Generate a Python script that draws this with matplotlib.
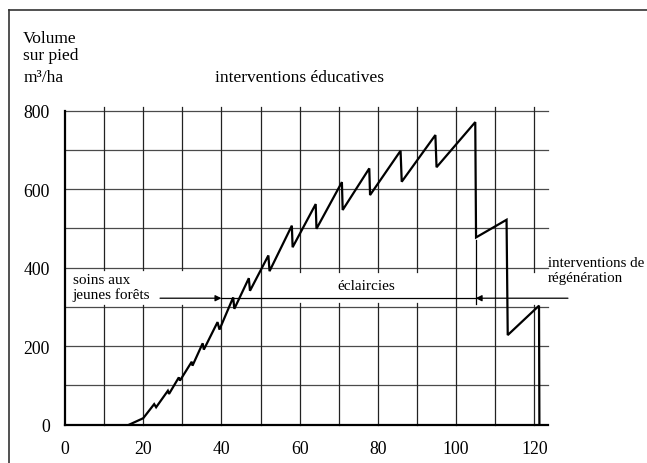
import matplotlib.pyplot as plt
from matplotlib.lines import Line2D

plt.rcParams['font.family'] = ['Liberation Serif', 'DejaVu Serif']

# standing volume (m3/ha) vs stand age
age = [16.5, 20.0, 22.8, 23.3, 26.3, 26.6, 29.1, 29.4, 32.4, 32.6, 35.2, 35.5,
       39.0, 39.5, 43.0, 43.3, 47.0, 47.3, 52.0, 52.3, 58.0, 58.2, 64.1, 64.3,
       70.8, 71.0, 77.8, 78.0, 85.8, 86.1, 94.7, 95.0, 104.9, 105.1,
       112.9, 113.2, 121.2, 121.3]
volume = [0, 16, 52, 44, 86, 78, 120, 112, 160, 150, 207, 191,
          261, 242, 324, 295, 373, 341, 431, 391, 507, 452, 562, 499,
          618, 547, 653, 585, 698, 619, 738, 656, 771, 477,
          522, 228, 303, 0]

x_ticks = [0, 20, 40, 60, 80, 100, 120]
y_ticks = [0, 200, 400, 600, 800]

fig = plt.figure(figsize=(6.47, 4.64), dpi=100)
W, H = 647, 464
# 3.911 px per year, 0.3922 px per m3
ax = fig.add_axes([65 / W, 38.5 / H, 140 * 3.911 / W, 900 * 0.3922 / H])
ax.set_xlim(0, 140)
ax.set_ylim(0, 900)
for s in ax.spines.values():
    s.set_visible(False)

# grid
x_end = 123.5
for yv in range(100, 801, 100):
    ax.plot([0, x_end], [yv, yv], color='#4a4a4a', lw=0.9, clip_on=False, zorder=1)

gaps = {10: (305, 395), 20: (305, 395), 30: (305, 395),
        60: (310, 390), 70: (310, 390), 80: (310, 390), 90: (310, 390),
        120: (305, 388)}
for xv in range(10, 121, 10):
    if xv in gaps:
        g0, g1 = gaps[xv]
        ax.plot([xv, xv], [0, g0], color='#222222', lw=0.9, clip_on=False, zorder=1)
        ax.plot([xv, xv], [g1, 810], color='#222222', lw=0.9, clip_on=False, zorder=1)
    else:
        ax.plot([xv, xv], [0, 810], color='#222222', lw=0.9, clip_on=False, zorder=1)

# axes lines
ax.plot([0, 0], [0, 800], color='k', lw=1.6, clip_on=False, zorder=2)
ax.plot([0, x_end], [0, 0], color='k', lw=1.6, clip_on=False, zorder=2)

# volume curve
ax.plot(age, volume, color='k', lw=1.6, clip_on=False, zorder=3,
        solid_joinstyle='miter')

# annotation lines and arrows
y_arr = 322
ax.annotate('', xy=(40, y_arr), xytext=(24.3, y_arr),
            arrowprops=dict(arrowstyle='-|>', lw=0.9, color='k',
                            mutation_scale=9, shrinkA=0, shrinkB=0))
ax.plot([40, 105], [y_arr, y_arr], color='k', lw=0.9, clip_on=False)
ax.annotate('', xy=(105, y_arr), xytext=(128.6, y_arr),
            arrowprops=dict(arrowstyle='-|>', lw=0.9, color='k',
                            mutation_scale=9, shrinkA=0, shrinkB=0))
ax.plot([105.2, 105.2], [470, 307], color='k', lw=0.9, clip_on=False)

# ticks
ax.set_xticks(x_ticks)
ax.set_yticks(y_ticks)
ax.tick_params(length=0, pad=11, labelsize=12.8)

# texts
fs = 12.5
ax.text(-10.7, 976, 'Volume', fontsize=fs, va='baseline', ha='left')
ax.text(-10.7, 932, 'sur pied', fontsize=fs, va='baseline', ha='left')
ax.text(-10.7, 876, 'm³/ha', fontsize=fs, va='baseline', ha='left')
ax.text(60, 876, 'interventions éducatives', fontsize=fs, va='baseline', ha='center')
ax.text(2.0, 362, 'soins aux', fontsize=11, va='baseline', ha='left')
ax.text(2.0, 323, 'jeunes forêts', fontsize=11, va='baseline', ha='left')
ax.text(77.1, 346, 'éclaircies', fontsize=11, va='baseline', ha='center')
ax.text(123.5, 403, 'interventions de', fontsize=10.8, va='baseline', ha='left')
ax.text(123.5, 366, 'régénération', fontsize=10.8, va='baseline', ha='left')

# frame around the figure (left and top only are visible)
fig.add_artist(Line2D([9 / W, 9 / W], [0, 1 - 11 / H], color='#333333', lw=1.2))
fig.add_artist(Line2D([9 / W, 1], [1 - 11 / H, 1 - 11 / H], color='#333333', lw=1.2))

fig.savefig('out.png', dpi=100)
